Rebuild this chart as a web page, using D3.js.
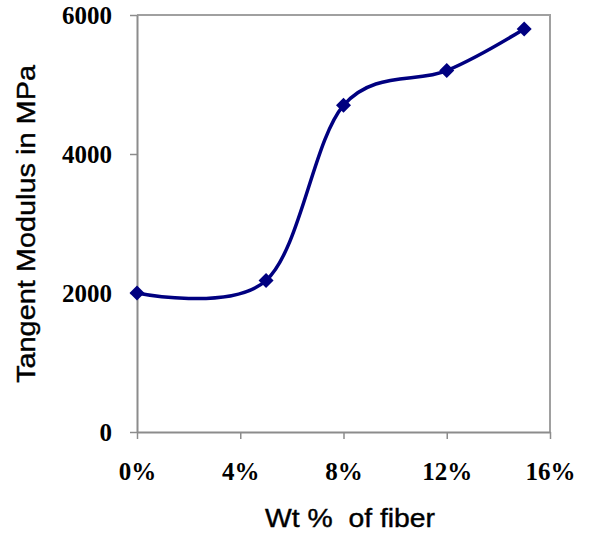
<!DOCTYPE html>
<html><head><meta charset="utf-8">
<script src="https://cdn.jsdelivr.net/npm/d3@7"></script>
<style>body{margin:0;background:#fff}svg{display:block}</style>
</head><body>
<script>
const fiberPct = [0, 5, 8, 12, 15];
const modulus = [2000, 2180, 4700, 5200, 5800];
const xTicks = [0, 4, 8, 12, 16];
const yTicks = [0, 2000, 4000, 6000];
const xTitle = "Wt %  of fiber";
const yTitle = "Tangent Modulus in MPa";

const W = 590, H = 533;
const m = {left: 137, right: 40, top: 15, bottom: 101};
const svg = d3.select("body").append("svg").attr("width", W).attr("height", H);

const x = d3.scaleLinear().domain([0, 16]).range([m.left, W - m.right]);
const y = d3.scaleLinear().domain([0, 6000]).range([H - m.bottom, m.top]);
const axisCol = "#8c8c8c";

// border top/right
svg.append("path")
  .attr("d", `M${x(0)},${y(6000)}H${x(16)}V${y(0)}`)
  .attr("fill", "none").attr("stroke", "#a0a0a0").attr("stroke-width", 2);

const xa = svg.append("g").attr("transform", `translate(0,${y(0)})`)
  .call(d3.axisBottom(x).tickValues(xTicks).tickSize(7).tickSizeOuter(0).tickFormat(d => d + "%"));
const ya = svg.append("g").attr("transform", `translate(${x(0)},0)`)
  .call(d3.axisLeft(y).tickValues(yTicks).tickSize(7).tickSizeOuter(0).tickFormat(d3.format("d")));

[xa, ya].forEach(g => {
  g.select(".domain").attr("stroke", axisCol).attr("stroke-width", 2);
  g.selectAll(".tick line").attr("stroke", axisCol).attr("stroke-width", 1.5);
  g.selectAll(".tick text").attr("fill", "#000")
    .attr("font-family", "'Liberation Serif','Times New Roman',serif")
    .attr("font-weight", "bold").attr("font-size", 25);
});
xa.selectAll(".tick text").attr("dy", null).attr("y", 48);
ya.selectAll(".tick text").attr("x", -25).attr("dy", "0.35em");

const line = d3.line().x((d, i) => x(fiberPct[i])).y(d => y(d)).curve(d3.curveCardinal.tension(0));
svg.append("path").datum(modulus).attr("d", line)
  .attr("fill", "none").attr("stroke", "#000080").attr("stroke-width", 3.5);

const r = 7.5;
svg.selectAll(".mk").data(modulus).enter().append("path")
  .attr("d", `M0,${-r}L${r},0L0,${r}L${-r},0Z`)
  .attr("transform", (d, i) => `translate(${x(fiberPct[i])},${y(d)})`)
  .attr("fill", "#000080");

svg.append("text").text(xTitle)
  .style("white-space", "pre")
  .attr("x", 350).attr("y", 527).attr("text-anchor", "middle")
  .attr("font-family", "'Liberation Sans',Arial,sans-serif").attr("font-size", 26)
  .attr("stroke", "#000").attr("stroke-width", 0.4)
  .attr("textLength", 170).attr("lengthAdjust", "spacingAndGlyphs");

svg.append("text").text(yTitle)
  .attr("transform", `translate(35,${(65 + 383) / 2}) rotate(-90)`)
  .attr("text-anchor", "middle")
  .attr("font-family", "'Liberation Sans',Arial,sans-serif").attr("font-size", 26)
  .attr("stroke", "#000").attr("stroke-width", 0.4)
  .attr("textLength", 318).attr("lengthAdjust", "spacingAndGlyphs");
</script>
</body></html>
